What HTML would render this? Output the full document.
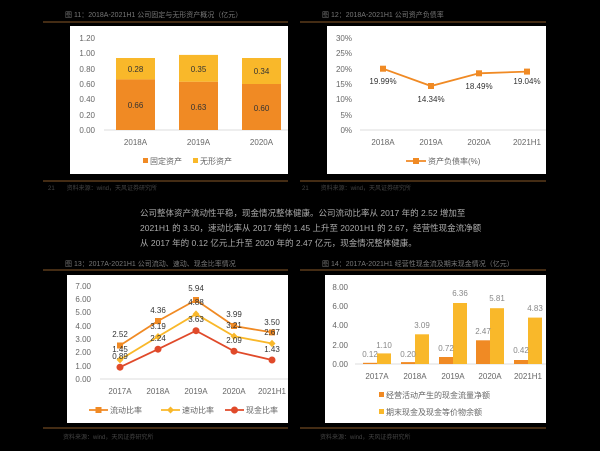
<!DOCTYPE html><html><head><meta charset="utf-8"><style>body{margin:0;background:#000;width:600px;height:451px;overflow:hidden}svg{display:block}text{font-family:"Liberation Sans","Noto Sans CJK SC",sans-serif}</style></head><body>
<svg width="600" height="451" viewBox="0 0 600 451">
<rect width="600" height="451" fill="#000"/>
<g font-size="7" fill="#777">
<text x="65" y="17">图 11：2018A-2021H1 公司固定与无形资产概况（亿元）</text>
<text x="322" y="17">图 12：2018A-2021H1 公司资产负债率</text>
<text x="65" y="266">图 13：2017A-2021H1 公司流动、速动、现金比率情况</text>
<text x="322" y="266">图 14：2017A-2021H1 经营性现金流及期末现金情况（亿元）</text>
<text x="48" y="190" font-size="6" fill="#444">21　　资料来源：wind，天风证券研究所</text>
<text x="302" y="190" font-size="6" fill="#444">21　　资料来源：wind，天风证券研究所</text>
<text x="63" y="439" font-size="6" fill="#444">资料来源：wind，天风证券研究所</text>
<text x="320" y="439" font-size="6" fill="#444">资料来源：wind，天风证券研究所</text>
</g>
<g stroke="#5a3a1a" stroke-width="1.5">
<line x1="43" y1="22" x2="288" y2="22"/><line x1="300" y1="22" x2="546" y2="22"/>
<line x1="43" y1="181" x2="288" y2="181"/><line x1="300" y1="181" x2="546" y2="181"/>
<line x1="43" y1="270" x2="288" y2="270"/><line x1="300" y1="270" x2="546" y2="270"/>
<line x1="43" y1="428" x2="288" y2="428"/><line x1="300" y1="428" x2="546" y2="428"/>
</g>
<g font-size="8.5" fill="#aaa">
<text x="140" y="216">公司整体资产流动性平稳，现金情况整体健康。公司流动比率从 2017 年的 2.52 增加至</text>
<text x="140" y="231">2021H1 的 3.50，速动比率从 2017 年的 1.45 上升至 20201H1 的 2.67，经营性现金流净额</text>
<text x="140" y="246">从 2017 年的 0.12 亿元上升至 2020 年的 2.47 亿元，现金情况整体健康。</text>
</g>
<rect x="70" y="26" width="218" height="148" fill="#fff"/>
<rect x="327" y="26" width="219" height="148" fill="#fff"/>
<rect x="67" y="275" width="221" height="148" fill="#fff"/>
<rect x="325" y="275" width="221" height="148" fill="#fff"/>
<g font-size="8" fill="#666" text-anchor="end">
<text x="95" y="41">1.20</text><text x="95" y="56">1.00</text><text x="95" y="72">0.80</text><text x="95" y="87">0.60</text><text x="95" y="102">0.40</text><text x="95" y="118">0.20</text><text x="95" y="133">0.00</text></g>
<line x1="104" y1="130" x2="288" y2="130" stroke="#ddd"/>
<rect x="116" y="79.4" width="39" height="50.6" fill="#f08a24"/><rect x="116" y="58" width="39" height="21.4" fill="#f9b82a"/>
<rect x="179" y="81.7" width="39" height="48.3" fill="#f08a24"/><rect x="179" y="54.9" width="39" height="26.8" fill="#f9b82a"/>
<rect x="242" y="84" width="39" height="46" fill="#f08a24"/><rect x="242" y="58" width="39" height="26" fill="#f9b82a"/>
<g font-size="8" fill="#333" text-anchor="middle">
<text x="135.5" y="108">0.66</text><text x="135.5" y="72">0.28</text>
<text x="198.5" y="110">0.63</text><text x="198.5" y="72">0.35</text>
<text x="261.5" y="111">0.60</text><text x="261.5" y="74">0.34</text>
</g>
<g font-size="8" fill="#666" text-anchor="middle"><text x="135.5" y="145">2018A</text><text x="198.5" y="145">2019A</text><text x="261.5" y="145">2020A</text></g>
<rect x="143" y="158" width="5" height="5" fill="#f08a24"/><text x="150" y="164" font-size="8" fill="#666">固定资产</text>
<rect x="193" y="158" width="5" height="5" fill="#f9b82a"/><text x="200" y="164" font-size="8" fill="#666">无形资产</text>
<g font-size="8" fill="#666" text-anchor="end">
<text x="352" y="41">30%</text><text x="352" y="56">25%</text><text x="352" y="72">20%</text><text x="352" y="87">15%</text><text x="352" y="102">10%</text><text x="352" y="118">5%</text><text x="352" y="133">0%</text></g>
<line x1="360" y1="130" x2="546" y2="130" stroke="#ddd"/>
<polyline points="383,68.7 431,86 479,73.3 527,71.6" fill="none" stroke="#f08a24" stroke-width="1.8"/>
<g fill="#f08a24"><rect x="380" y="65.7" width="6" height="6"/><rect x="428" y="83" width="6" height="6"/><rect x="476" y="70.3" width="6" height="6"/><rect x="524" y="68.6" width="6" height="6"/></g>
<g font-size="8" fill="#333" text-anchor="middle"><text x="383" y="84">19.99%</text><text x="431" y="102">14.34%</text><text x="479" y="89">18.49%</text><text x="527" y="84">19.04%</text></g>
<g font-size="8" fill="#666" text-anchor="middle"><text x="383" y="145">2018A</text><text x="431" y="145">2019A</text><text x="479" y="145">2020A</text><text x="527" y="145">2021H1</text></g>
<line x1="406" y1="161" x2="426" y2="161" stroke="#f08a24" stroke-width="1.8"/><rect x="413" y="158" width="6" height="6" fill="#f08a24"/>
<text x="428" y="164" font-size="8" fill="#666">资产负债率(%)</text>
<g font-size="8" fill="#666" text-anchor="end">
<text x="91" y="289">7.00</text><text x="91" y="302">6.00</text><text x="91" y="315">5.00</text><text x="91" y="329">4.00</text><text x="91" y="342">3.00</text><text x="91" y="355">2.00</text><text x="91" y="369">1.00</text><text x="91" y="382">0.00</text></g>
<line x1="100" y1="379" x2="288" y2="379" stroke="#ddd"/>
<polyline points="120,345.5 158,321 196,300 234,326 272,332.4" fill="none" stroke="#f08a24" stroke-width="1.8"/>
<polyline points="120,359.7 158,336.6 196,314.1 234,336.3 272,343.5" fill="none" stroke="#f9b82a" stroke-width="1.8"/>
<polyline points="120,367.2 158,349.2 196,330.7 234,351.2 272,360" fill="none" stroke="#e04a2a" stroke-width="1.8"/>
<g fill="#f08a24"><rect x="117" y="342.5" width="6" height="6"/><rect x="155" y="318" width="6" height="6"/><rect x="193" y="297" width="6" height="6"/><rect x="231" y="323" width="6" height="6"/><rect x="269" y="329.4" width="6" height="6"/></g>
<g fill="#f9b82a"><path d="M120 356l3.5 3.7-3.5 3.7-3.5-3.7z"/><path d="M158 333l3.5 3.6-3.5 3.6-3.5-3.6z"/><path d="M196 310.4l3.5 3.7-3.5 3.7-3.5-3.7z"/><path d="M234 332.6l3.5 3.7-3.5 3.7-3.5-3.7z"/><path d="M272 339.8l3.5 3.7-3.5 3.7-3.5-3.7z"/></g>
<g fill="#e04a2a"><circle cx="120" cy="367.2" r="3.5"/><circle cx="158" cy="349.2" r="3.5"/><circle cx="196" cy="330.7" r="3.5"/><circle cx="234" cy="351.2" r="3.5"/><circle cx="272" cy="360" r="3.5"/></g>
<g font-size="8" fill="#333" text-anchor="middle">
<text x="120" y="337">2.52</text><text x="120" y="352">1.45</text><text x="120" y="359">0.89</text>
<text x="158" y="313">4.36</text><text x="158" y="329">3.19</text><text x="158" y="341">2.24</text>
<text x="196" y="291">5.94</text><text x="196" y="305">4.88</text><text x="196" y="322">3.63</text>
<text x="234" y="317">3.99</text><text x="234" y="328">3.21</text><text x="234" y="343">2.09</text>
<text x="272" y="325">3.50</text><text x="272" y="335">2.67</text><text x="272" y="352">1.43</text>
</g>
<g font-size="8" fill="#666" text-anchor="middle"><text x="120" y="394">2017A</text><text x="158" y="394">2018A</text><text x="196" y="394">2019A</text><text x="234" y="394">2020A</text><text x="272" y="394">2021H1</text></g>
<line x1="89" y1="410" x2="108" y2="410" stroke="#f08a24" stroke-width="1.8"/><rect x="95.5" y="407" width="6" height="6" fill="#f08a24"/><text x="110" y="413" font-size="8" fill="#666">流动比率</text>
<line x1="161" y1="410" x2="180" y2="410" stroke="#f9b82a" stroke-width="1.8"/><path d="M170.5 406.5l3.5 3.5-3.5 3.5-3.5-3.5z" fill="#f9b82a"/><text x="182" y="413" font-size="8" fill="#666">速动比率</text>
<line x1="225" y1="410" x2="244" y2="410" stroke="#e04a2a" stroke-width="1.8"/><circle cx="234.5" cy="410" r="3.5" fill="#e04a2a"/><text x="246" y="413" font-size="8" fill="#666">现金比率</text>
<g font-size="8" fill="#666" text-anchor="end">
<text x="348" y="290">8.00</text><text x="348" y="309">6.00</text><text x="348" y="328">4.00</text><text x="348" y="348">2.00</text><text x="348" y="367">0.00</text></g>
<line x1="355" y1="364" x2="546" y2="364" stroke="#ddd"/>
<g fill="#f08a24">
<rect x="363" y="362.8" width="14" height="1.2"/><rect x="401" y="362.1" width="14" height="1.9"/><rect x="439" y="357" width="14" height="7"/><rect x="476" y="340.3" width="14" height="23.7"/><rect x="514" y="360" width="14" height="4"/></g>
<g fill="#f9b82a">
<rect x="377" y="353.4" width="14" height="10.6"/><rect x="415" y="334.3" width="14" height="29.7"/><rect x="453" y="303" width="14" height="61"/><rect x="490" y="308.2" width="14" height="55.8"/><rect x="528" y="317.6" width="14" height="46.4"/></g>
<g font-size="8" fill="#888" text-anchor="middle">
<text x="370" y="357">0.12</text><text x="384" y="348">1.10</text>
<text x="408" y="357">0.20</text><text x="422" y="328">3.09</text>
<text x="446" y="351">0.72</text><text x="460" y="296">6.36</text>
<text x="483" y="334">2.47</text><text x="497" y="301">5.81</text>
<text x="521" y="353">0.42</text><text x="535" y="311">4.83</text></g>
<g font-size="8" fill="#666" text-anchor="middle"><text x="377" y="379">2017A</text><text x="415" y="379">2018A</text><text x="453" y="379">2019A</text><text x="490" y="379">2020A</text><text x="528" y="379">2021H1</text></g>
<rect x="379" y="392" width="5" height="5" fill="#f08a24"/><text x="386" y="398" font-size="8" fill="#666">经营活动产生的现金流量净额</text>
<rect x="379" y="409" width="5" height="5" fill="#f9b82a"/><text x="386" y="415" font-size="8" fill="#666">期末现金及现金等价物余额</text>
</svg></body></html>
